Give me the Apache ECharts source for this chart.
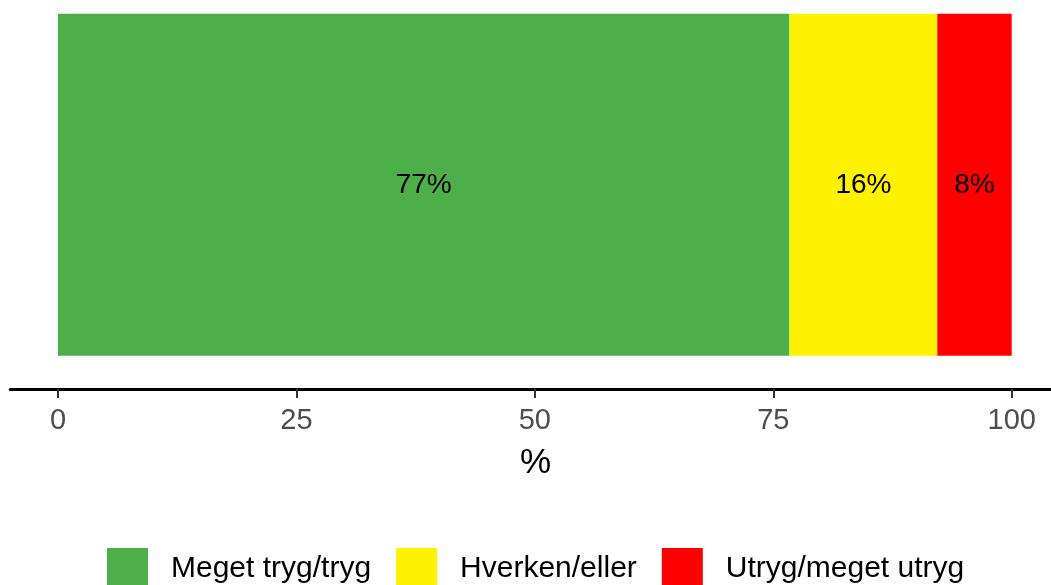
<!DOCTYPE html>
<html>
<head>
<meta charset="utf-8">
<style>
  html, body { margin: 0; padding: 0; background: #fff; }
  #chart { width: 1051px; height: 585px; }
</style>
<script src="https://cdn.jsdelivr.net/npm/echarts@6/dist/echarts.min.js"></script>
</head>
<body>
<div id="chart"></div>
<script>
// categories and values
var categories = ['']
var seriesNames = ['Meget tryg/tryg', 'Hverken/eller', 'Utryg/meget utryg']
var green = [76.7]
var yellow = [15.5]
var red = [7.8]
var tickValues = [0, 25, 50, 75, 100]

var colors = ['#4daf4a', '#fff200', '#ff0000']
var font = "'Liberation Sans', Arial, Helvetica, sans-serif"

function makeSeries(name, data, color) {
  return {
    name: name,
    type: 'bar',
    stack: 'total',
    data: data,
    barWidth: 342,
    itemStyle: { color: color },
    label: {
      show: true,
      position: 'inside',
      color: '#000',
      fontSize: 28,
      fontFamily: font,
      formatter: function (p) {
        return Math.round(p.value) + '%'
      }
    }
  }
}

var chart = echarts.init(document.getElementById('chart'))
chart.setOption({
  animation: false,
  textStyle: { fontFamily: font },
  grid: {
    left: 10.3,
    right: 0,
    top: 0,
    bottom: 215.3,
    containLabel: false
  },
  xAxis: {
    type: 'value',
    min: -5,
    max: 104.12,
    offset: 19.3,
    name: '%',
    nameLocation: 'middle',
    nameGap: 57,
    // padding nudges the title to sit under 50
    nameTextStyle: { fontSize: 35, color: '#000', fontFamily: font, padding: [0, 0, 0, 10] },
    axisLine: { show: true, lineStyle: { color: '#000', width: 3 } },
    axisTick: {
      show: true,
      length: 9,
      customValues: tickValues,
      lineStyle: { color: '#333', width: 2 }
    },
    axisLabel: {
      customValues: tickValues,
      margin: 17,
      fontSize: 29,
      color: '#4d4d4d',
      fontFamily: font
    },
    splitLine: { show: false }
  },
  yAxis: {
    type: 'category',
    data: categories,
    axisLine: { show: false },
    axisTick: { show: false },
    axisLabel: { show: false }
  },
  legend: {
    data: seriesNames,
    left: 107,
    top: 548,
    padding: 0,
    icon: 'rect',
    itemWidth: 41,
    itemHeight: 41,
    itemGap: 25,
    textStyle: {
      fontSize: 30,
      color: '#000',
      fontFamily: font,
      padding: [0, 0, 0, 18]
    }
  },
  series: [
    makeSeries(seriesNames[0], green, colors[0]),
    makeSeries(seriesNames[1], yellow, colors[1]),
    makeSeries(seriesNames[2], red, colors[2])
  ]
})
</script>
</body>
</html>
